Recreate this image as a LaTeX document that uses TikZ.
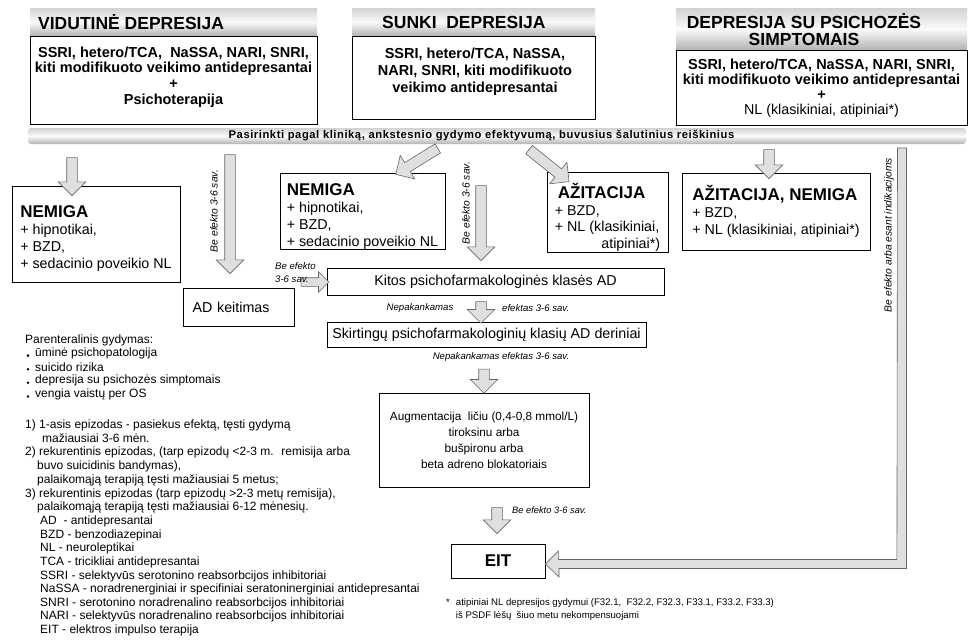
\documentclass[tikz,border=0pt]{standalone}
\usepackage{fontspec}
\setmainfont{Liberation Sans}
\usetikzlibrary{arrows, shapes.arrows, positioning, calc}

\newcommand{\fsz}[2]{\fontsize{#1}{#2}\selectfont}
% block arrow between two points: [options]{name}{from}{to}
\newcommand{\fatarrow}[4][]{%
  \path let \p1=(#3), \p2=(#4), \n1={veclen(\x2-\x1,\y2-\y1)} in
    (\p1) -- node[fatarr, minimum height=\n1, #1] (#2) {} (\p2);}

\begin{document}
\begin{tikzpicture}[x=1pt, y=-1pt,
  hdr/.style={inner sep=0pt, top color=gray!35, bottom color=gray!60, middle color=gray!4},
  box/.style={draw, line width=0.8pt, inner sep=0pt},
  ttl/.style={inner sep=0pt, font=\fsz{17.5}{17}\bfseries},
  fatarr/.style={single arrow, draw=black!60, fill=gray!25, line width=0.6pt,
    inner xsep=0pt, inner ysep=5pt, single arrow head extend=8.5pt,
    single arrow head indent=0pt, sloped, allow upside down},
  lbl/.style={inner sep=0pt, font=\fsz{9.6}{13}\itshape},
  vlbl/.style={inner sep=0pt, font=\fsz{10.3}{12}\itshape, rotate=90},
  note/.style={inner sep=0pt, anchor=west, font=\fsz{12}{13.6}}]

\fill[white] (0,0) rectangle (974,643);
\useasboundingbox (0,0) rectangle (974,643);

% top row
\node[hdr, minimum width=287, minimum height=28] (hdr_1) at (173.5,22) {};
\node[ttl, anchor=west] (ttl_1) at (38,22) {VIDUTINĖ DEPRESIJA};
\node[box, minimum width=287, minimum height=88] (box_1) at (173.5,80) {};
\node[inner sep=0pt, align=center, font=\fsz{14.5}{15.7}\bfseries] (txt_1) at (173.5,77)
  {SSRI, hetero/TCA,~ NaSSA, NARI, SNRI,\\kiti modifikuoto veikimo antidepresantai\\+\\Psichoterapija};

\node[hdr, minimum width=243, minimum height=28] (hdr_2) at (473.5,22) {};
\node[ttl, anchor=west] (ttl_2) at (382,22) {SUNKI~ DEPRESIJA};
\node[box, minimum width=243, minimum height=83] (box_2) at (473.5,77.5) {};
\node[inner sep=0pt, align=center, font=\fsz{14.5}{16.8}\bfseries] (txt_2) at (475,71.5)
  {SSRI, hetero/TCA, NaSSA,\\NARI, SNRI, kiti modifikuoto\\veikimo antidepresantai};

\node[hdr, minimum width=291, minimum height=42] (hdr_3) at (821.5,29) {};
\node[ttl, align=center] (ttl_3) at (804,29.5) {DEPRESIJA SU PSICHOZĖS\\SIMPTOMAIS};
\node[box, minimum width=291, minimum height=75] (box_3) at (821.5,87.5) {};
\node[inner sep=0pt, align=center, font=\fsz{14.5}{15}\bfseries] (txt_3) at (821.5,88)
  {SSRI, hetero/TCA, NaSSA, NARI, SNRI,\\kiti modifikuoto veikimo antidepresantai\\+\\
   \fontseries{m}\fsz{14.3}{15}NL (klasikiniai, atipiniai*)};

\node[hdr, rounded corners=3pt, minimum width=938, minimum height=16] (band) at (497,136) {};
\node[inner sep=0pt, font=\fsz{11.2}{12}\bfseries\addfontfeature{LetterSpace=5}] (band_txt) at (481.5,136)
  {Pasirinkti pagal kliniką, ankstesnio gydymo efektyvumą, buvusius šalutinius reiškinius};

% second row
\node[box, align=left, minimum width=168, minimum height=96, font=\fsz{14.3}{17}] (nem_1) at (96,234)
  {\rule{0pt}{20pt}{\fsz{17}{19}\bfseries NEMIGA}\\+ hipnotikai,\\+ BZD,\\+ sedacinio poveikio NL};
\node[box, align=left, minimum width=165, minimum height=71, font=\fsz{14.3}{17}] (nem_2) at (362.5,211.5)
  {\rule{0pt}{22pt}{\fsz{17}{19}\bfseries NEMIGA}\\+ hipnotikai,\\+ BZD,\\+ sedacinio poveikio NL};
\node[box, align=left, minimum width=121, minimum height=80, font=\fsz{14.3}{16.5}] (azi) at (607.5,212)
  {\rule{0pt}{26pt}\hspace{3pt}{\fsz{17}{19}\bfseries AŽITACIJA}\\+ BZD,\\+ NL (klasikiniai,\\\hphantom{+ NL (k}atipiniai*)};
\node[box, align=left, minimum width=188, minimum height=77, font=\fsz{14.3}{17}] (azi_nem) at (776,211.5)
  {{\fsz{17}{21}\bfseries AŽITACIJA, NEMIGA}\\+ BZD,\\+ NL (klasikiniai, atipiniai*)};

\node[box, text width=92, inner xsep=9.5pt, align=left, minimum height=38, font=\fsz{14.3}{17}] (keit) at (238.5,307)
  {AD keitimas};
\node[box, minimum width=337, minimum height=27, font=\fsz{14.3}{17}] (kitos) at (495.5,282)
  {Kitos psichofarmakologinės klasės AD};
\node[box, minimum width=319, minimum height=25, font=\fsz{14.3}{17}] (deriniai) at (486.5,334.5)
  {Skirtingų psichofarmakologinių klasių AD deriniai};
\node[box, minimum width=210, minimum height=94, align=center, font=\fsz{11.8}{16}] (augm) at (484,440)
  {Augmentacija~ ličiu (0,4-0,8 mmol/L)\\tiroksinu arba\\bušpironu arba\\beta adreno blokatoriais};
\node[box, minimum width=94, minimum height=34, font=\fsz{17}{19}\bfseries] (eit) at (498,561) {EIT};

% block arrows
\coordinate (a1_s) at (72,155);   \coordinate (a1_e) at (72,193);
\coordinate (a2_s) at (230,152);  \coordinate (a2_e) at (230,271);
\coordinate (a3_s) at (440,147);  \coordinate (a3_e) at (398,173);
\coordinate (a4_s) at (527,148);  \coordinate (a4_e) at (567,180);
\coordinate (a5_s) at (769,147);  \coordinate (a5_e) at (769,176);
\coordinate (a6_s) at (481,183);  \coordinate (a6_e) at (481,258);
\coordinate (a7_s) at (299,282);
\coordinate (a10_s) at (497,505); \coordinate (a10_e) at (497,531);

\fatarrow{arr_1}{a1_s}{a1_e}
\fatarrow{arr_2}{a2_s}{a2_e}
\fatarrow{arr_3}{a3_s}{a3_e}
\fatarrow{arr_4}{a4_s}{a4_e}
\fatarrow{arr_5}{a5_s}{a5_e}
\fatarrow{arr_6}{a6_s}{a6_e}
\fatarrow[inner ysep=4pt, single arrow head extend=6pt]{arr_7}{a7_s}{kitos.west}
\fatarrow{arr_8}{$(kitos.south)+(-14.5,3)$}{$(deriniai.north)+(-5.5,-1)$}
\fatarrow{arr_9}{$(deriniai.south)+(-2.5,19)$}{$(augm.north)+(0,-2)$}
\fatarrow{arr_10}{a10_s}{a10_e}

% return arrow to EIT
\coordinate (eit_in) at ($(eit.east)+(0,3)$);
\draw[draw=black!60, fill=gray!25, line width=0.6pt]
  (eit_in) -- ++(13,-13) -- ++(0,8.5) -- ++(338.5,0) -- (897.5,148) -- (906.5,148)
  -- (906.5,568.5) -- ++(-347.5,0) -- ++(0,8.5) -- cycle;

% arrow labels
\node[vlbl] (lbl_2) at (214,211) {Be efekto 3-6 sav.};
\node[vlbl] (lbl_6) at (466,203) {Be efekto 3-6 sav.};
\node[vlbl] (lbl_eit) at (889,235) {Be efekto arba esant indikacijoms};
\node[lbl, align=left, anchor=north west] (lbl_7) at (275,262) {Be efekto\\3-6 sav.};
\node[lbl] (lbl_8a) at (420,308) {Nepakankamas};
\node[lbl, anchor=west] (lbl_8b) at (502,308) {efektas 3-6 sav.};
\node[lbl] (lbl_9) at (501,357) {Nepakankamas efektas 3-6 sav.};
\node[lbl, font=\fsz{9.3}{11}\itshape, anchor=west] (lbl_10) at (512,510) {Be efekto 3-6 sav.};

% notes on the left
\node[note] (par) at (25,340) {Parenteralinis gydymas:};
\foreach \t [count=\i] in {ūminė psichopatologija, suicido rizika,
    depresija su psichozės simptomais, vengia vaistų per OS} {
  \node[note] (par_\i) at (35,340+13.6*\i) {\t};
  \fill ($(par_\i.west)+(-7,2)$) circle (1.4);
}
\foreach \x/\y/\t [count=\i] in {
    25/425/{1) 1-asis epizodas - pasiekus efektą, tęsti gydymą},
    42/438/{mažiausiai 3-6 mėn.},
    25/452/{2) rekurentinis epizodas, (tarp epizodų <2-3 m.~ remisija arba},
    37/466/{buvo suicidinis bandymas),},
    37/480/{palaikomąją terapiją tęsti mažiausiai 5 metus;},
    25/494/{3) rekurentinis epizodas (tarp epizodų >2-3 metų remisija),},
    37/507/{palaikomąją terapiją tęsti mažiausiai 6-12 mėnesių.}}
  \node[note] (reg_\i) at (\x,\y) {\t};
\foreach \t [count=\i] in {AD~ - antidepresantai, BZD - benzodiazepinai, NL - neuroleptikai,
    TCA - tricikliai antidepresantai, SSRI - selektyvūs serotonino reabsorbcijos inhibitoriai,
    NaSSA - noradrenerginiai ir specifiniai seratoninerginiai antidepresantai,
    SNRI - serotonino noradrenalino reabsorbcijos inhibitoriai,
    NARI - selektyvūs noradrenalino reabsorbcijos inhibitoriai, EIT - elektros impulso terapija}
  \node[note] (abr_\i) at (40,508+13.6*\i) {\t};

% footnote
\node[inner sep=0pt, anchor=north west, align=left, font=\fsz{9.6}{13.5}] (fnote) at (446,598)
  {*\hspace{6pt}atipiniai NL depresijos gydymui (F32.1,~ F32.2, F32.3, F33.1, F33.2, F33.3)\\
   \hphantom{*\hspace{6pt}}iš PSDF lėšų~ šiuo metu nekompensuojami};

\end{tikzpicture}
\end{document}
